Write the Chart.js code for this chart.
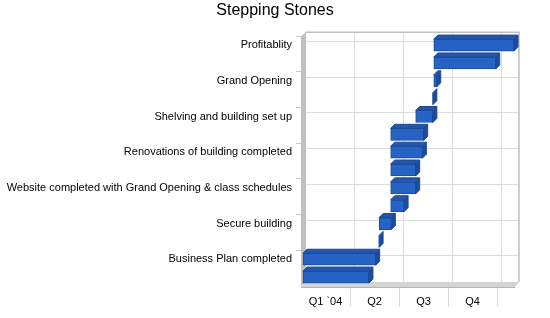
<!DOCTYPE html>
<html lang="en">
<head>
<meta charset="UTF-8">
<title>Stepping Stones</title>
<script src="https://cdn.jsdelivr.net/npm/chart.js@4.4.1/dist/chart.umd.min.js"></script>
<style>
  body { margin: 0; background: #fff; }
  canvas { display: block; }
</style>
</head>
<body>
<canvas id="myChart" width="550" height="318"></canvas>
<script>
// rows from top to bottom; every other row carries no visible label
var categories = ['Profitablity', '', 'Grand Opening', '', 'Shelving and building set up', '',
  'Renovations of building completed', '', 'Website completed with Grand Opening & class schedules', '',
  'Secure building', '', 'Business Plan completed', ''];
// months since 1 Jan 2004
var taskStart = [8.13, 8.13, 8.13, 8.07, 7.02, 5.49, 5.49, 5.49, 5.49, 5.49, 4.78, 4.78, 0.12, 0.12];
var taskEnd   = [13.04, 11.92, 8.31, 8.07, 8.07, 7.51, 7.43, 7.02, 7.02, 6.31, 5.53, 4.78, 4.57, 4.16];
var quarterTicks = [0, 3, 6, 9, 12];
var quarterLabels = ['Q1 `04', 'Q2', 'Q3', 'Q4'];
var axisMax = 13.1;

var depth = 4;
var font = '"Liberation Sans", Arial, sans-serif';

function poly(ctx, pts) {
  ctx.beginPath();
  ctx.moveTo(pts[0][0], pts[0][1]);
  for (var i = 1; i < pts.length; i++) ctx.lineTo(pts[i][0], pts[i][1]);
  ctx.closePath();
}

// back wall, side wall, floor and the 3d faces of the bars
var box3d = {
  id: 'box3d',
  beforeDatasetsDraw: function (chart) {
    var ctx = chart.ctx, a = chart.chartArea, x = chart.scales.x, y = chart.scales.y;
    ctx.save();
    ctx.lineWidth = 1;
    ctx.strokeStyle = '#dcdcdc';
    quarterTicks.slice(1).forEach(function (v) {
      var px = Math.round(x.getPixelForValue(v)) + depth + 0.5;
      ctx.beginPath(); ctx.moveTo(px, a.top - depth); ctx.lineTo(px, a.bottom - depth); ctx.stroke();
      // separators between the quarter labels
      var fx = Math.round(x.getPixelForValue(v)) + 0.5;
      ctx.beginPath(); ctx.moveTo(fx, a.bottom + 2); ctx.lineTo(fx, a.bottom + 21); ctx.stroke();
    });
    categories.forEach(function (c, i) {
      if (!c) return;
      var py = Math.round(y.getPixelForTick(i)) - depth + 0.5;
      ctx.beginPath(); ctx.moveTo(a.left + depth, py); ctx.lineTo(a.right + depth, py); ctx.stroke();
    });
    // wall border
    ctx.strokeStyle = '#c0c0c0';
    ctx.lineWidth = 1.5;
    ctx.beginPath();
    ctx.moveTo(a.left + depth, a.top - depth);
    ctx.lineTo(a.right + depth, a.top - depth);
    ctx.lineTo(a.right + depth, a.bottom - depth);
    ctx.stroke();
    // left wall
    ctx.fillStyle = '#c0c0c0';
    poly(ctx, [[a.left, a.top], [a.left + depth + 1, a.top - depth], [a.left + depth + 1, a.bottom - depth], [a.left, a.bottom]]);
    ctx.fill();
    // floor
    ctx.fillStyle = '#d4d4d4';
    poly(ctx, [[a.left, a.bottom + 1], [a.left + depth, a.bottom - depth], [a.right + depth, a.bottom - depth], [a.right, a.bottom + 1]]);
    ctx.fill();
    ctx.strokeStyle = '#b4b4b4';
    ctx.lineWidth = 1;
    ctx.beginPath(); ctx.moveTo(a.left, a.bottom + 1.5); ctx.lineTo(a.right, a.bottom + 1.5); ctx.stroke();
    ctx.restore();
  },
  afterDatasetsDraw: function (chart) {
    var ctx = chart.ctx;
    ctx.save();
    ctx.lineWidth = 1;
    ctx.strokeStyle = '#1c4a98';
    chart.getDatasetMeta(0).data.forEach(function (el) {
      var p = el.getProps(['x', 'y', 'base', 'height'], true);
      var l = Math.min(p.x, p.base), r = Math.max(p.x, p.base);
      var t = p.y - p.height / 2, b = p.y + p.height / 2;
      if (r - l > 0.5) {
        ctx.fillStyle = '#2456ad';
        poly(ctx, [[l, t], [l + depth, t - depth], [r + depth, t - depth], [r, t]]);
        ctx.fill(); ctx.stroke();
      }
      ctx.fillStyle = '#1d4b9a';
      poly(ctx, [[r, t], [r + depth, t - depth], [r + depth, b - depth], [r, b]]);
      ctx.fill(); ctx.stroke();
    });
    ctx.restore();
  }
};

var ctx = document.getElementById('myChart').getContext('2d');
var chart = new Chart(ctx, {
  type: 'bar',
  data: {
    labels: categories,
    datasets: [{
      data: taskStart.map(function (s, i) { return [s, taskEnd[i]]; }),
      backgroundColor: '#2763c4',
      borderColor: '#1c4a98',
      borderWidth: 1,
      borderSkipped: false,
      barThickness: 12
    }]
  },
  options: {
    indexAxis: 'y',
    responsive: false,
    animation: false,
    devicePixelRatio: 1,
    layout: { padding: 0 },
    plugins: {
      legend: { display: false },
      tooltip: { enabled: false },
      title: {
        display: true,
        text: 'Stepping Stones',
        color: '#000',
        font: { family: font, size: 16, weight: 'normal' },
        padding: { top: 1, bottom: 16 }
      }
    },
    scales: {
      x: {
        type: 'linear',
        min: 0,
        max: axisMax,
        afterBuildTicks: function (scale) {
          scale.ticks = quarterLabels.map(function (q, i) {
            return { value: (quarterTicks[i] + quarterTicks[i + 1]) / 2 };
          });
        },
        afterFit: function (scale) { scale.height = 32; },
        grid: { drawOnChartArea: false, drawTicks: false },
        border: { display: false },
        ticks: {
          padding: 9,
          color: '#000',
          font: { family: font, size: 11 },
          maxRotation: 0,
          callback: function (v, i) { return quarterLabels[i]; }
        }
      },
      y: {
        type: 'category',
        afterFit: function (scale) { scale.width = 301; },
        grid: {
          drawOnChartArea: false,
          drawTicks: true,
          tickLength: 5,
          tickColor: function (c) { return categories[c.index] ? '#c8c8c8' : 'rgba(0,0,0,0)'; }
        },
        border: { display: false },
        ticks: {
          autoSkip: false,
          padding: 4,
          color: '#000',
          font: { family: font, size: 11 }
        }
      },
      // empty right-hand axis: keeps room for the 3d depth
      yRight: {
        type: 'category',
        position: 'right',
        afterFit: function (scale) { scale.width = 35; },
        grid: { display: false },
        border: { display: false },
        ticks: { display: false }
      }
    }
  },
  plugins: [box3d]
});
</script>
</body>
</html>
